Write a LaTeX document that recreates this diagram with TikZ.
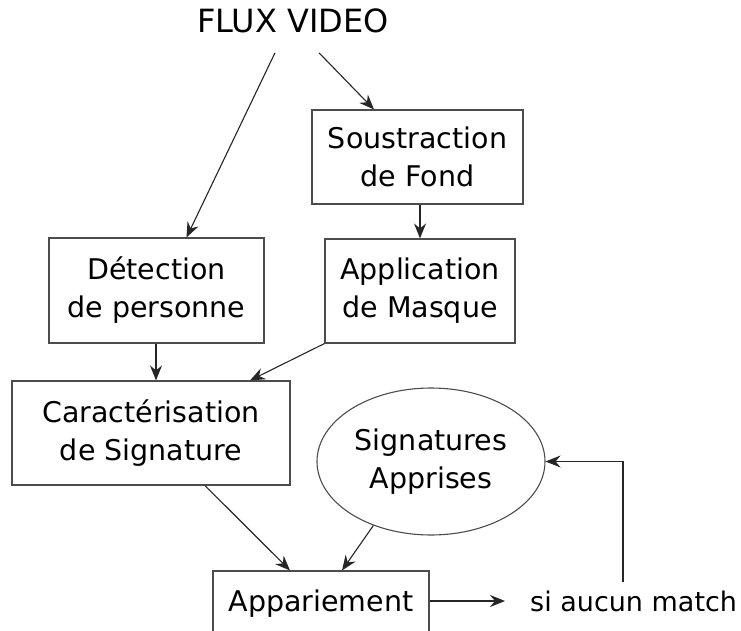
\documentclass[tikz,border=0pt]{standalone}
\usepackage{fontspec}
\setmainfont{DejaVu Sans}
\usetikzlibrary{arrows.meta,shapes.geometric}
\begin{document}
\begin{tikzpicture}[x=1pt,y=-1pt,
  box/.style={draw=black!70,line width=1.1pt,rectangle,align=center,inner sep=0pt,
    font=\fontsize{28.5}{38}\selectfont},
  oval/.style={draw=black!70,line width=1.1pt,ellipse,align=center,inner sep=0pt,
    font=\fontsize{28.5}{38}\selectfont},
  conn/.style={draw=black!85,line width=1.1pt,-{Stealth[length=15pt,width=12pt,inset=5pt]}},
  plain/.style={draw=black!70,line width=1.1pt}]
\clip (0,0) rectangle (741,631);
\useasboundingbox (0,0) rectangle (741,631);
\fill[white] (0,0) rectangle (741,631);
\node[font=\fontsize{32}{38}\selectfont,inner xsep=0pt,inner ysep=19.5pt] (flux) at (293,21) {FLUX VIDEO};
\node[box,minimum width=211pt,minimum height=94pt] (sous) at (417.5,157) {Soustraction\\de Fond};
\node[box,minimum width=215pt,minimum height=105pt] (det) at (156.5,290.5) {Détection\\de personne};
\node[box,minimum width=190pt,minimum height=104pt] (app) at (420,291) {Application\\de Masque};
\node[box,minimum width=278pt,minimum height=104pt] (car) at (151,433) {Caractérisation\\de Signature};
\node[oval,minimum width=228pt,minimum height=147pt] (sig) at (431,461.5) {Signatures\\Apprises};
\node[box,minimum width=216pt,minimum height=66pt] (par) at (321,604) {Appariement};
\node[font=\fontsize{27}{34}\selectfont,inner sep=0pt,anchor=west] (si) at (530,601) {si aucun match};
\coordinate (fb) at (623,582);
\draw[conn] ([xshift=-18pt]flux.south) -- ([xshift=30pt]det.north);
\draw[conn] ([xshift=26pt]flux.south) -- ([xshift=-43.5pt]sous.north);
\draw[conn] (sous.south -| app.north) -- (app.north);
\draw[conn] (det.south -| 156,0) -- (car.north -| 156,0);
\draw[conn] (app.south west) -- ([xshift=99pt]car.north);
\draw[conn] ([xshift=54pt]car.south) -- ([xshift=-31pt]par.north);
\draw[conn] (sig.228) -- ([xshift=21pt]par.north);
\draw[conn] (par.east |- si.west) -- ([xshift=-25pt]si.west);
\draw[conn] (fb) |- (sig.east);
\end{tikzpicture}
\end{document}
